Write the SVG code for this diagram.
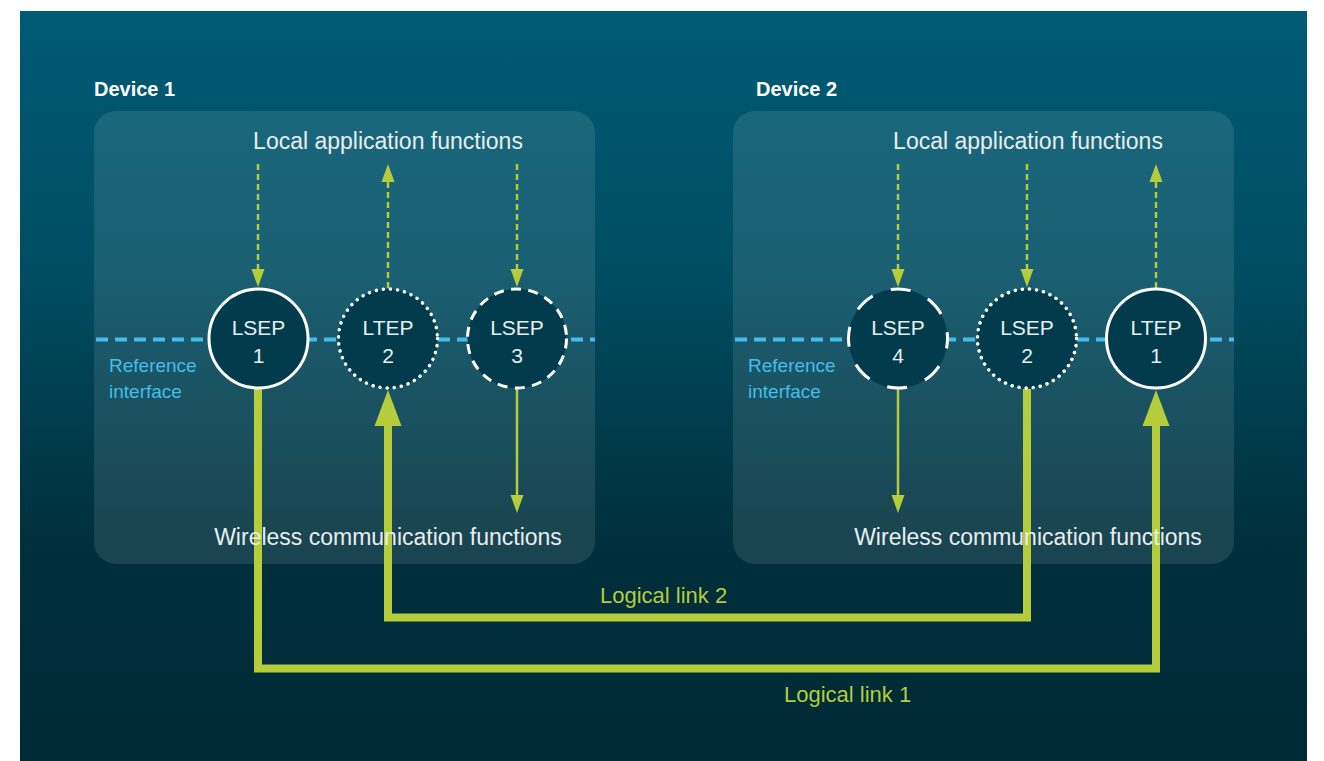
<svg xmlns="http://www.w3.org/2000/svg" width="1324" height="761" viewBox="0 0 1324 761">
  <defs>
    <linearGradient id="bg" x1="0" y1="0" x2="0" y2="1">
      <stop offset="0" stop-color="#005b74"/>
      <stop offset="0.35" stop-color="#004d62"/>
      <stop offset="0.7" stop-color="#00303d"/>
      <stop offset="1" stop-color="#002a35"/>
    </linearGradient>
    <style>
      .box { fill: #ffffff; fill-opacity: 0.1; }
      .title { font-family: "Liberation Sans", Arial, sans-serif; font-weight: bold; font-size: 20px; fill: #ffffff; }
      .lbl { font-family: "Liberation Sans", Arial, sans-serif; font-size: 23px; fill: #e6eef0; text-anchor: middle; }
      .ctext { font-family: "Liberation Sans", Arial, sans-serif; font-size: 21px; fill: #e6eef0; text-anchor: middle; }
      .ref { font-family: "Liberation Sans", Arial, sans-serif; font-size: 19px; fill: #45bde8; }
      .link { font-family: "Liberation Sans", Arial, sans-serif; font-size: 22px; fill: #b5cc3c; }
      .refline { stroke: #45bde8; stroke-width: 4; stroke-dasharray: 12 7; fill: none; }
      .node { fill: #013b4c; stroke: #ffffff; stroke-width: 3; }
      .dotted { stroke-dasharray: 0.1 7.03; stroke-linecap: round; stroke-width: 3.5; }
      .dashed { stroke-dasharray: 10 7.453; }
      .longdash { stroke-dasharray: 20 19.27; stroke-dashoffset: 10; }
      .dash-arrow { stroke: #b5cc3c; stroke-width: 2.5; stroke-dasharray: 6 4; fill: none; }
      .thin-arrow { stroke: #b5cc3c; stroke-width: 2.5; fill: none; }
      .thick { stroke: #b5cc3c; stroke-width: 8; fill: none; stroke-linejoin: miter; }
      .head { fill: #b5cc3c; }
    </style>
  </defs>

  <rect x="20" y="11" width="1287" height="750" fill="url(#bg)"/>

  <g id="device1">
    <rect class="box" x="94" y="111" width="501" height="453" rx="22"/>
    <text class="title" x="94" y="96">Device 1</text>
    <text class="lbl" x="388" y="149">Local application functions</text>
    <line class="refline" x1="96" y1="339.5" x2="595" y2="339.5"/>
    <text class="ref" x="109" y="372">Reference</text>
    <text class="ref" x="109" y="398">interface</text>
  </g>

  <g id="device2">
    <rect class="box" x="733" y="111" width="501" height="453" rx="22"/>
    <text class="title" x="756" y="96">Device 2</text>
    <text class="lbl" x="1028" y="149">Local application functions</text>
    <line class="refline" x1="735" y1="339.5" x2="1234" y2="339.5"/>
    <text class="ref" x="748" y="372">Reference</text>
    <text class="ref" x="748" y="398">interface</text>
  </g>

  <g id="connectors">
    <!-- Device 1 -->
    <line class="dash-arrow" x1="258" y1="164" x2="258" y2="270"/>
    <polygon class="head" points="251.5,269 264.5,269 258,287"/>
    <line class="dash-arrow" x1="388" y1="288" x2="388" y2="181"/>
    <polygon class="head" points="381.5,182 394.5,182 388,164"/>
    <line class="dash-arrow" x1="517" y1="164" x2="517" y2="270"/>
    <polygon class="head" points="510.5,269 523.5,269 517,287"/>
    <line class="thin-arrow" x1="517" y1="389" x2="517" y2="497"/>
    <polygon class="head" points="510.5,495 523.5,495 517,513"/>
    <!-- Device 2 -->
    <line class="dash-arrow" x1="898" y1="164" x2="898" y2="270"/>
    <polygon class="head" points="891.5,269 904.5,269 898,287"/>
    <line class="dash-arrow" x1="1027" y1="164" x2="1027" y2="270"/>
    <polygon class="head" points="1020.5,269 1033.5,269 1027,287"/>
    <line class="dash-arrow" x1="1156" y1="288" x2="1156" y2="181"/>
    <polygon class="head" points="1149.5,182 1162.5,182 1156,164"/>
    <line class="thin-arrow" x1="898" y1="389" x2="898" y2="497"/>
    <polygon class="head" points="891.5,495 904.5,495 898,513"/>
    <!-- Logical links -->
    <path class="thick" d="M258,389 V668.5 H1156 V424"/>
    <polygon class="head" points="1142.5,426 1169.5,426 1156,390"/>
    <path class="thick" d="M1027,389 V617.5 H388 V424"/>
    <polygon class="head" points="374.5,426 401.5,426 388,390"/>
    <text class="link" x="600" y="603">Logical link 2</text>
    <text class="link" x="784" y="702">Logical link 1</text>
  </g>

  <g id="device1-wireless">
    <text class="lbl" x="388" y="545">Wireless communication functions</text>
  </g>
  <g id="device2-wireless">
    <text class="lbl" x="1028" y="545">Wireless communication functions</text>
  </g>

  <g id="lsep1">
    <circle class="node" cx="258.5" cy="338.5" r="49.5"/>
    <text class="ctext" x="258.5" y="335">LSEP</text>
    <text class="ctext" x="258.5" y="363">1</text>
  </g>
  <g id="ltep2">
    <circle class="node dotted" cx="388" cy="338.5" r="49.5"/>
    <text class="ctext" x="388" y="335">LTEP</text>
    <text class="ctext" x="388" y="363">2</text>
  </g>
  <g id="lsep3">
    <circle class="node dashed" cx="517" cy="338.5" r="49.5"/>
    <text class="ctext" x="517" y="335">LSEP</text>
    <text class="ctext" x="517" y="363">3</text>
  </g>
  <g id="lsep4">
    <circle class="node longdash" cx="898" cy="338.5" r="49.5"/>
    <text class="ctext" x="898" y="335">LSEP</text>
    <text class="ctext" x="898" y="363">4</text>
  </g>
  <g id="lsep2">
    <circle class="node dotted" cx="1027" cy="338.5" r="49.5"/>
    <text class="ctext" x="1027" y="335">LSEP</text>
    <text class="ctext" x="1027" y="363">2</text>
  </g>
  <g id="ltep1">
    <circle class="node" cx="1156" cy="338.5" r="49.5"/>
    <text class="ctext" x="1156" y="335">LTEP</text>
    <text class="ctext" x="1156" y="363">1</text>
  </g>
</svg>
